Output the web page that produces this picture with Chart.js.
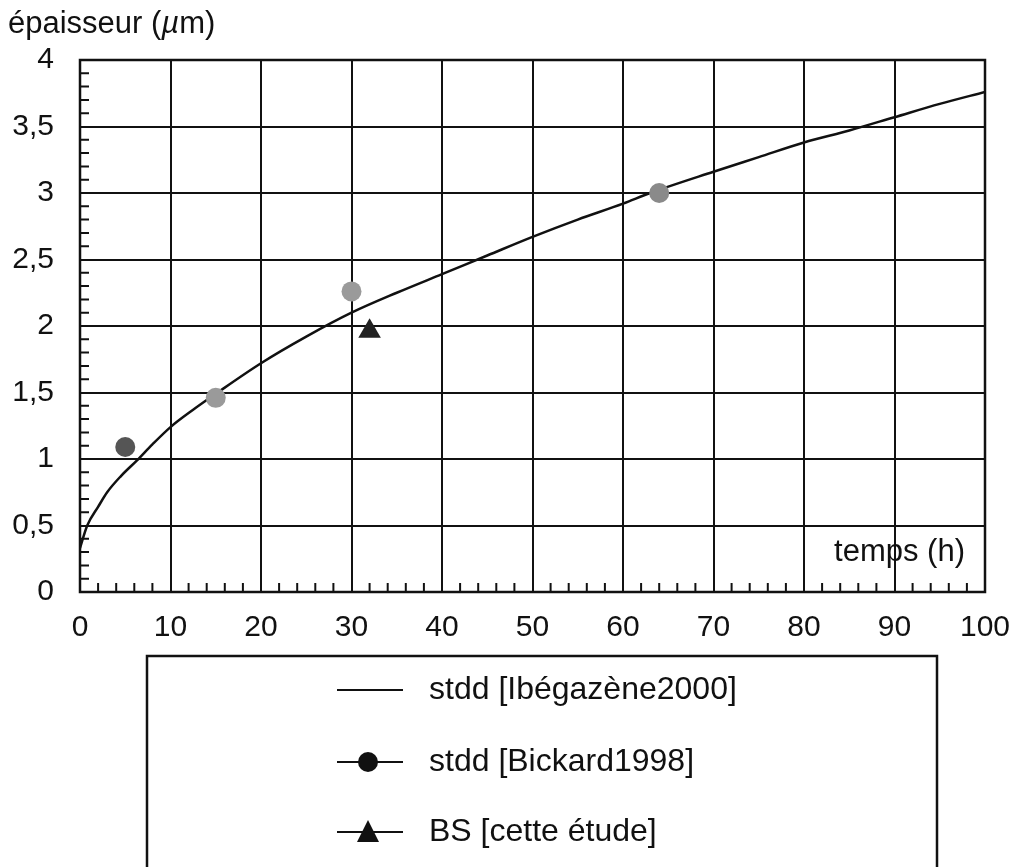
<!DOCTYPE html>
<html>
<head>
<meta charset="utf-8">
<script src="https://cdn.jsdelivr.net/npm/chart.js@4"></script>
<style>
html,body{margin:0;padding:0;background:#fff;}
#wrap{position:relative;width:1019px;height:867px;}
</style>
</head>
<body>
<div id="wrap"><canvas id="c" width="1019" height="867"></canvas></div>
<script>
// ---- data ----
const curveX = [0, 0.8, 2, 3, 4.5, 6.3, 8, 10, 12.5, 15, 20, 25, 30, 35, 40, 45, 50, 55, 60, 63, 70, 75, 80, 85, 90, 95, 100];
const curveY = [0.33, 0.5, 0.64, 0.75, 0.87, 0.99, 1.11, 1.24, 1.37, 1.49, 1.72, 1.92, 2.10, 2.25, 2.39, 2.53, 2.67, 2.80, 2.92, 3.0, 3.16, 3.27, 3.38, 3.47, 3.57, 3.67, 3.76];
const bickX = [5, 15, 30, 64];
const bickY = [1.09, 1.46, 2.26, 3.0];
const bickColors = ['#555555', '#9a9a9a', '#9a9a9a', '#8a8a8a'];
const bsX = [32];
const bsY = [1.96];
const legendLabels = ['stdd [Ibégazène2000]', 'stdd [Bickard1998]', 'BS [cette étude]'];
const xTicks = [0, 10, 20, 30, 40, 50, 60, 70, 80, 90, 100];
const yTicks = ['0', '0,5', '1', '1,5', '2', '2,5', '3', '3,5', '4'];
const yTitle = ['épaisseur (', 'µ', 'm)'];
const xTitle = 'temps (h)';

const FONT = '"Liberation Sans", Arial, Helvetica, sans-serif';

const extras = {
  id: 'extras',
  afterDatasetsDraw(chart) {
    const ctx = chart.ctx;
    const xs = chart.scales.x, ys = chart.scales.y;
    const a = chart.chartArea;
    ctx.save();
    // minor ticks
    ctx.strokeStyle = '#111';
    ctx.lineWidth = 2;
    ctx.beginPath();
    for (let v = 0; v <= 100; v += 2) {
      if (v % 10 === 0) continue;
      const px = xs.getPixelForValue(v);
      ctx.moveTo(px, a.bottom);
      ctx.lineTo(px, a.bottom - 9);
    }
    for (let i = 0; i <= 40; i++) {
      if (i % 5 === 0) continue;
      const py = ys.getPixelForValue(i / 10);
      ctx.moveTo(a.left, py);
      ctx.lineTo(a.left + 9, py);
    }
    ctx.stroke();
    // border
    ctx.lineWidth = 2.5;
    ctx.strokeRect(a.left, a.top, a.right - a.left, a.bottom - a.top);
    // y title
    ctx.fillStyle = '#111';
    ctx.textBaseline = 'alphabetic';
    ctx.textAlign = 'left';
    let x = 8;
    const y = 33;
    ctx.font = '31px ' + FONT;
    ctx.fillText(yTitle[0], x, y); x += ctx.measureText(yTitle[0]).width;
    ctx.font = 'italic 31px ' + FONT;
    ctx.fillText(yTitle[1], x, y); x += ctx.measureText(yTitle[1]).width;
    ctx.font = '31px ' + FONT;
    ctx.fillText(yTitle[2], x, y);
    // x title inside plot
    ctx.textAlign = 'right';
    ctx.font = '31px ' + FONT;
    ctx.fillText(xTitle, 965, 561);
    // legend box
    ctx.lineWidth = 2.5;
    ctx.strokeStyle = '#111';
    ctx.strokeRect(147, 656, 790, 230);
    const rows = [690, 762, 832];
    ctx.font = '32px ' + FONT;
    ctx.textAlign = 'left';
    ctx.textBaseline = 'middle';
    rows.forEach((ry, i) => {
      ctx.lineWidth = 2;
      ctx.beginPath();
      ctx.moveTo(337, ry); ctx.lineTo(403, ry);
      ctx.stroke();
      ctx.fillStyle = '#111';
      if (i === 1) {
        ctx.beginPath(); ctx.arc(368, ry, 10, 0, Math.PI * 2); ctx.fill();
      } else if (i === 2) {
        ctx.beginPath();
        ctx.moveTo(368, ry - 12); ctx.lineTo(379, ry + 10); ctx.lineTo(357, ry + 10); ctx.closePath(); ctx.fill();
      }
      ctx.fillText(legendLabels[i], 429, ry);
    });
    ctx.restore();
  }
};

new Chart(document.getElementById('c'), {
  type: 'scatter',
  data: {
    datasets: [
      {
        label: legendLabels[0],
        data: curveX.map((x, i) => ({x, y: curveY[i]})),
        showLine: true,
        borderColor: '#111',
        borderWidth: 2.5,
        pointRadius: 0,
        cubicInterpolationMode: 'monotone',
        order: 3
      },
      {
        label: legendLabels[1],
        data: bickX.map((x, i) => ({x, y: bickY[i]})),
        pointStyle: 'circle',
        pointRadius: 10,
        backgroundColor: bickColors,
        borderColor: bickColors,
        borderWidth: 0,
        order: 1
      },
      {
        label: legendLabels[2],
        data: bsX.map((x, i) => ({x, y: bsY[i]})),
        pointStyle: 'triangle',
        pointRadius: 13,
        backgroundColor: '#222',
        borderColor: '#222',
        borderWidth: 0,
        order: 2
      }
    ]
  },
  options: {
    responsive: false,
    animation: false,
    events: [],
    layout: { padding: { left: 0, top: 60, right: 34, bottom: 0 } },
    plugins: { legend: { display: false }, tooltip: { enabled: false } },
    scales: {
      x: {
        type: 'linear', min: 0, max: 100,
        afterBuildTicks: s => { s.ticks = xTicks.map(v => ({value: v})); },
        afterFit: s => { s.height = 275; s.paddingLeft = 0; s.paddingRight = 0; },
        grid: { color: '#111', lineWidth: 2, drawTicks: false },
        border: { display: false },
        ticks: { color: '#111', font: { family: FONT, size: 30 }, padding: 18, maxRotation: 0, autoSkip: false }
      },
      y: {
        type: 'linear', min: 0, max: 4,
        afterBuildTicks: s => { s.ticks = yTicks.map((t, i) => ({value: i * 0.5})); },
        afterFit: s => { s.width = 80; s.paddingTop = 0; s.paddingBottom = 0; },
        grid: { color: '#111', lineWidth: 2, drawTicks: false },
        border: { display: false },
        ticks: { color: '#111', font: { family: FONT, size: 30 }, padding: 26,
          callback: (v, i) => yTicks[i] }
      }
    }
  },
  plugins: [extras]
});
</script>
</body>
</html>
